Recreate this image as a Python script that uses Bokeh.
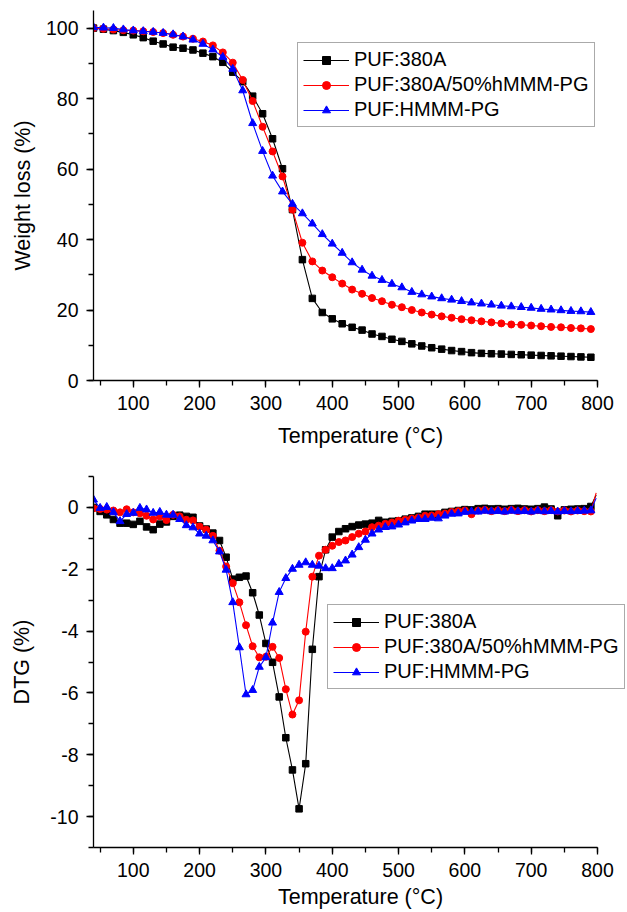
from bokeh.plotting import figure
from bokeh.layouts import column
from bokeh.models import SingleIntervalTicker, Range1d, PrintfTickFormatter
from bokeh.embed import file_html
from bokeh.resources import INLINE

# ---------------- data ----------------
tga_T = [40, 55, 70, 85, 100, 115, 130, 145, 160, 175, 190, 205, 220, 235, 250,
         265, 280, 295, 310, 325, 340, 355, 370, 385, 400, 415, 430, 445, 460, 475,
         490, 505, 520, 535, 550, 565, 580, 595, 610, 625, 640, 655, 670, 685, 700,
         715, 730, 745, 760, 775, 790]

tga_380A = [100.0, 99.7, 99.3, 98.8, 98.1, 97.3, 96.3, 95.5, 94.6, 94.3, 93.8, 92.9, 91.9, 90.3, 87.5,
            84.8, 80.7, 75.7, 68.6, 60.1, 48.5, 34.3, 23.3, 19.3, 17.5, 16.1, 15.1, 14.3, 13.2, 12.5,
            11.7, 11.1, 10.4, 9.8, 9.3, 8.9, 8.5, 8.2, 7.9, 7.7, 7.6, 7.5, 7.4, 7.3, 7.2,
            7.1, 7.0, 6.9, 6.8, 6.7, 6.6]

tga_mix = [100.0, 99.8, 99.6, 99.4, 99.3, 99.1, 98.9, 98.6, 98.1, 97.6, 97.0, 96.2, 95.1, 93.1, 90.2,
           85.3, 79.3, 72.0, 65.0, 57.9, 48.5, 39.1, 33.8, 31.2, 29.3, 27.5, 25.8, 24.6, 23.4, 22.5,
           21.5, 20.8, 20.0, 19.3, 18.7, 18.2, 17.8, 17.4, 17.1, 16.8, 16.5, 16.2, 15.9, 15.8, 15.6,
           15.4, 15.2, 15.1, 14.9, 14.8, 14.6]

tga_hmmm = [100.2, 100.1, 100.0, 99.6, 99.3, 99.1, 98.9, 98.6, 98.2, 97.6, 96.7, 95.5, 93.9, 91.8, 88.4,
            82.3, 73.0, 65.1, 58.1, 53.6, 50.1, 47.4, 44.5, 41.5, 38.8, 36.2, 33.5, 31.4, 29.7, 28.5,
            27.4, 26.4, 25.1, 24.4, 23.8, 23.3, 22.9, 22.5, 22.1, 21.8, 21.5, 21.2, 21.0, 20.8, 20.6,
            20.3, 20.1, 19.9, 19.7, 19.6, 19.4]

# DTG: marker temperatures 40..790 every 10, plus final end point (line only)
dtg_T = [40, 50, 60, 70, 80, 90, 100, 110, 120, 130, 140, 150, 160, 170, 180, 190,
         200, 210, 220, 230, 240, 250, 260, 270, 280, 290, 300, 310, 320, 330, 340, 350,
         360, 370, 380, 390, 400, 410, 420, 430, 440, 450, 460, 470, 480, 490, 500, 510,
         520, 530, 540, 550, 560, 570, 580, 590, 600, 610, 620, 630, 640, 650, 660, 670,
         680, 690, 700, 710, 720, 730, 740, 750, 760, 770, 780, 790, 798]

dtg_380A = [0.0, -0.13, -0.24, -0.39, -0.51, -0.51, -0.55, -0.45, -0.63, -0.72, -0.54, -0.47, -0.29, -0.25, -0.29, -0.32,
            -0.60, -0.70, -0.83, -1.07, -1.61, -2.32, -2.26, -2.22, -2.76, -3.48, -4.40, -5.01, -6.13, -7.45, -8.49, -9.75,
            -8.29, -4.59, -2.24, -1.37, -0.96, -0.78, -0.69, -0.62, -0.57, -0.54, -0.51, -0.42, -0.48, -0.45, -0.43, -0.38,
            -0.34, -0.29, -0.22, -0.22, -0.22, -0.16, -0.13, -0.10, -0.07, -0.08, -0.04, -0.03, -0.05, -0.04, -0.06, -0.04,
            -0.03, -0.05, -0.06, -0.04, 0.01, -0.05, -0.27, -0.08, -0.06, -0.05, -0.04, 0.03, 0.40]

dtg_mix = [-0.03, -0.05, -0.07, -0.10, -0.16, -0.06, -0.16, -0.19, -0.27, -0.39, -0.29, -0.41, -0.24, -0.29, -0.40, -0.42,
           -0.62, -0.72, -0.92, -1.40, -1.91, -2.45, -3.07, -3.81, -4.49, -4.85, -4.83, -4.51, -4.87, -5.88, -6.70, -6.24,
           -4.02, -2.24, -1.56, -1.37, -1.24, -1.12, -1.07, -0.96, -0.85, -0.78, -0.64, -0.59, -0.53, -0.49, -0.43, -0.40,
           -0.36, -0.33, -0.27, -0.26, -0.22, -0.20, -0.15, -0.12, -0.10, -0.22, -0.10, -0.08, -0.12, -0.09, -0.12, -0.08,
           -0.12, -0.09, -0.13, -0.09, -0.12, -0.09, -0.13, -0.10, -0.13, -0.10, -0.12, -0.13, 0.47]

dtg_hmmm = [0.25, -0.02, 0.01, -0.16, -0.45, -0.22, -0.18, -0.02, -0.07, -0.18, -0.15, -0.24, -0.24, -0.38, -0.58, -0.65,
            -0.85, -0.92, -1.07, -1.43, -2.02, -3.07, -4.53, -6.05, -5.91, -5.16, -4.85, -3.73, -2.74, -2.29, -1.99, -1.86,
            -1.78, -1.86, -1.89, -1.97, -1.97, -1.83, -1.72, -1.53, -1.29, -1.05, -0.85, -0.72, -0.64, -0.62, -0.56, -0.49,
            -0.43, -0.38, -0.38, -0.34, -0.36, -0.27, -0.21, -0.20, -0.15, -0.13, -0.14, -0.11, -0.13, -0.12, -0.14, -0.11,
            -0.13, -0.12, -0.14, -0.11, -0.13, -0.12, -0.14, -0.12, -0.13, -0.12, -0.11, -0.10, 0.30]

labels = ["PUF:380A", "PUF:380A/50%hMMM-PG", "PUF:HMMM-PG"]
colors = ["#000000", "#ff0000", "#0000ff"]
markers = ["square", "circle", "triangle"]
msizes = [6.5, 7, 8]

FONT = "Liberation Sans"
X_MIN, X_MAX = 40, 800
# plot area runs to the page edge (so the lower legend may overhang as in the
# original); the axis itself stops at 800
FRAME_PX, AXIS_PX = 534, 504
X_VIEW_END = X_MIN + (X_MAX - X_MIN) * FRAME_PX / AXIS_PX


def style_axes(p, xlabel, ylabel, y_interval, ylab_standoff, xlab_standoff, xmaj_standoff):
    p.xaxis.ticker = SingleIntervalTicker(interval=100, num_minor_ticks=2)
    p.xaxis.bounds = (X_MIN, X_MAX)
    p.yaxis.ticker = SingleIntervalTicker(interval=y_interval, num_minor_ticks=2)
    p.yaxis.formatter = PrintfTickFormatter(format="%d")
    p.xaxis.axis_label = xlabel
    p.yaxis.axis_label = ylabel
    for ax in (p.xaxis, p.yaxis):
        ax.axis_line_color = "black"
        ax.axis_line_width = 1.3
        ax.major_tick_line_color = "black"
        ax.minor_tick_line_color = "black"
        ax.major_tick_line_width = 1.3
        ax.minor_tick_line_width = 1.3
        ax.major_tick_in = 0
        ax.major_tick_out = 7
        ax.minor_tick_in = 0
        ax.minor_tick_out = 5
        ax.major_label_text_font = FONT
        ax.major_label_text_font_size = "19.5px"
        ax.major_label_text_color = "black"
        ax.axis_label_text_font = FONT
        ax.axis_label_text_font_size = "21.5px"
        ax.axis_label_text_font_style = "normal"
        ax.axis_label_text_color = "black"
    p.yaxis.major_label_standoff = 8
    p.yaxis.axis_label_standoff = ylab_standoff
    p.xaxis.major_label_standoff = xmaj_standoff
    p.xaxis.axis_label_standoff = xlab_standoff
    p.xgrid.visible = False
    p.ygrid.visible = False
    p.outline_line_color = None


def style_legend(p, loc):
    lg = p.legend[0]
    lg.location = loc
    lg.label_text_font = FONT
    lg.label_text_font_size = "20px"
    lg.label_text_color = "black"
    lg.glyph_width = 46
    lg.glyph_height = 20
    lg.label_height = 20
    lg.label_standoff = 5
    lg.spacing = 2
    lg.padding = 5
    lg.margin = 0
    lg.border_line_color = "#555555"
    lg.border_line_width = 1.3
    lg.background_fill_color = "white"
    lg.background_fill_alpha = 1.0


# ---------------- top: TGA ----------------
p1 = figure(width=627, height=455, output_backend="svg", toolbar_location=None,
            x_range=Range1d(X_MIN, X_VIEW_END), y_range=Range1d(0, 105),
            min_border_left=93, min_border_right=0, min_border_top=10, min_border_bottom=75)
for ys, lab, c, m, s in zip([tga_380A, tga_mix, tga_hmmm], labels, colors, markers, msizes):
    p1.line(tga_T, ys, line_color=c, line_width=1.1, legend_label=lab)
    p1.scatter(tga_T, ys, marker=m, size=s, fill_color=c, line_color=c, legend_label=lab)
style_axes(p1, "Temperature (°C)", "Weight loss (%)", 20, 8, 11, 8)
style_legend(p1, (204, 253))

# ---------------- bottom: DTG ----------------
p2 = figure(width=627, height=457, output_backend="svg", toolbar_location=None,
            x_range=Range1d(X_MIN, X_VIEW_END), y_range=Range1d(-11, 1),
            min_border_left=93, min_border_right=0, min_border_top=21, min_border_bottom=65)
for ys, lab, c, m, s in zip([dtg_380A, dtg_mix, dtg_hmmm], labels, colors, markers, msizes):
    p2.line(dtg_T, ys, line_color=c, line_width=1.1, legend_label=lab)
    p2.scatter(dtg_T[:-1], ys[:-1], marker=m, size=s, fill_color=c, line_color=c, legend_label=lab)
style_axes(p2, "Temperature (°C)", "DTG (%)", 2, 13, 5, 8)
style_legend(p2, (234, 158))

layout = column(p1, p2)
open("out.html", "w").write(file_html(layout, INLINE))
